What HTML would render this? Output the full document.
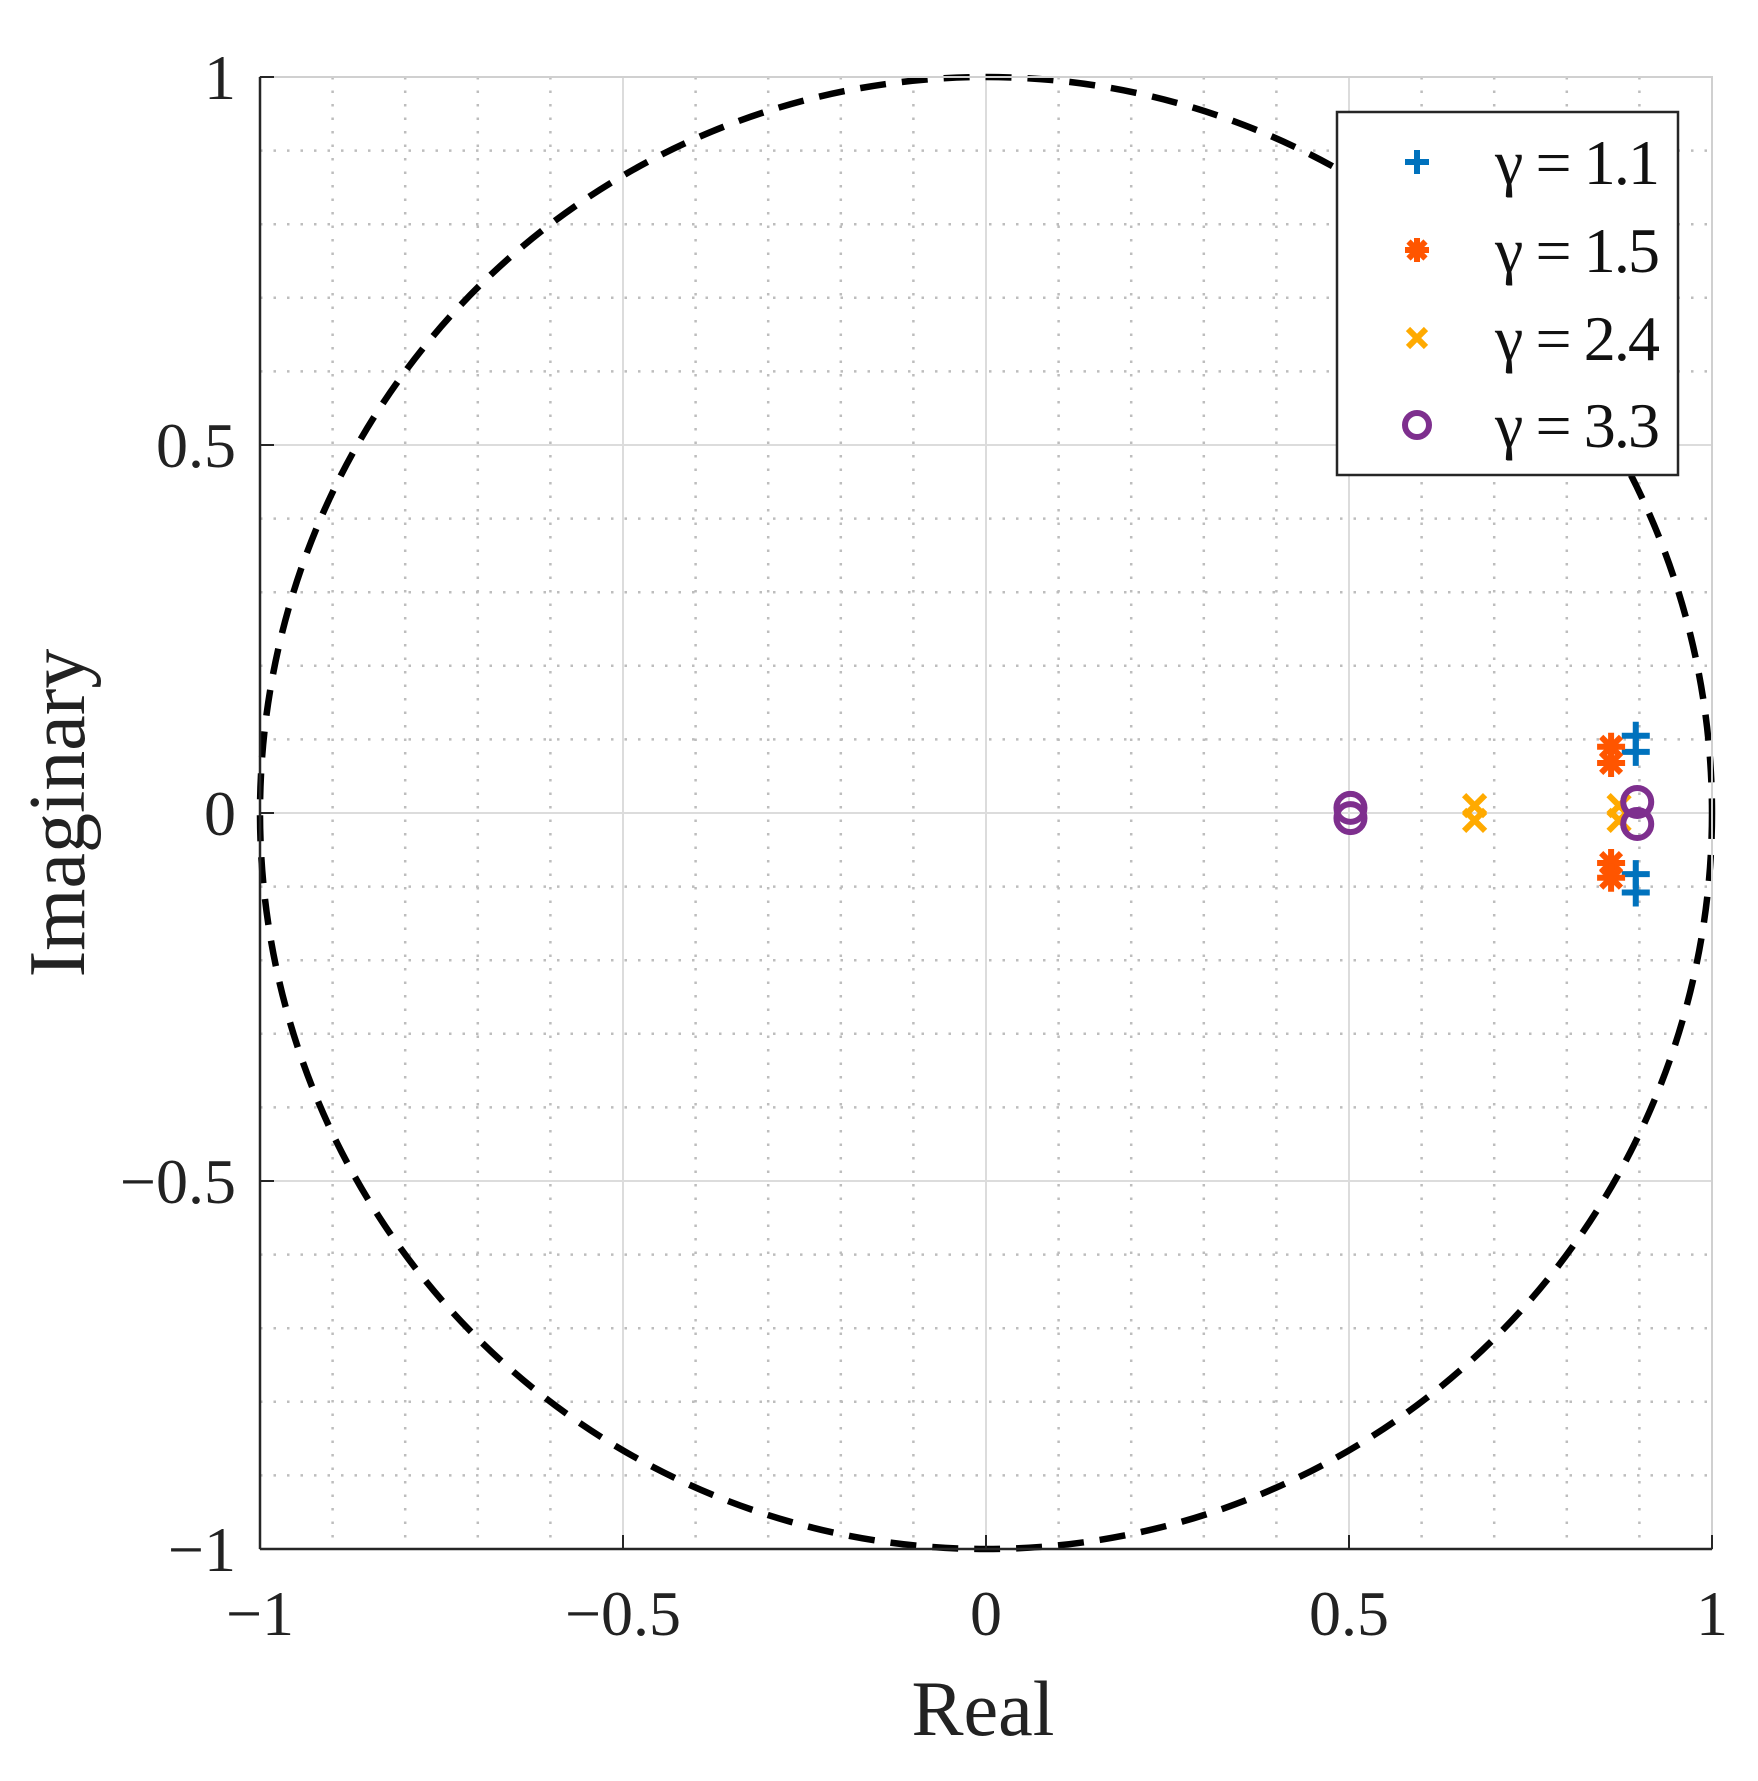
<!DOCTYPE html>
<html><head><meta charset="utf-8"><style>
html,body{margin:0;padding:0;background:#fff;}
svg{display:block;font-family:"Liberation Serif",serif;}
</style></head><body>
<svg id="chart" width="1758" height="1781" viewBox="0 0 1758 1781">
<g id="grid"></g>
<g id="circle"></g>
<g id="axes"></g>
<g id="marks"></g>
<g id="legend"></g>
<text x="983" y="1735" font-size="78" text-anchor="middle" fill="#222">Real</text>
<text transform="translate(84,813) rotate(-90)" font-size="80" text-anchor="middle" fill="#222">Imaginary</text>
</svg>
<script>
const ticks = [-1, -0.5, 0, 0.5, 1];
const tickLabels = ["\u22121", "\u22120.5", "0", "0.5", "1"];
const seriesNames = ["\u03b3 = 1.1", "\u03b3 = 1.5", "\u03b3 = 2.4", "\u03b3 = 3.3"];
const seriesColors = ["#0072BD", "#FF5500", "#FFAA00", "#7E2F8E"];
const seriesMarkers = ["plus", "asterisk", "x", "circle"];
const re11 = [0.895, 0.895, 0.895, 0.895];
const im11 = [0.105, 0.083, -0.083, -0.108];
const re15 = [0.861, 0.861, 0.861, 0.861];
const im15 = [0.09, 0.068, -0.068, -0.088];
const re24 = [0.673, 0.673, 0.872, 0.872];
const im24 = [0.01, -0.01, 0.01, -0.01];
const re33 = [0.502, 0.502, 0.897, 0.897];
const im33 = [0.007, -0.007, 0.015, -0.015];
const seriesRe = [re11, re15, re24, re33];
const seriesIm = [im11, im15, im24, im33];

const NS = "http://www.w3.org/2000/svg";
const L = 260, R = 1712, T = 77, B = 1549;
const sx = v => L + (v + 1) / 2 * (R - L);
const sy = v => B - (v + 1) / 2 * (B - T);
function mk(tag, attrs, parent) {
  const e = document.createElementNS(NS, tag);
  for (const k in attrs) e.setAttribute(k, attrs[k]);
  parent.appendChild(e);
  return e;
}
const grid = document.getElementById('grid');
for (let i = -10; i <= 10; i++) {
  const v = i / 10;
  const major = (i % 5 === 0);
  const lx = mk('line', {x1: sx(v), x2: sx(v), y1: T, y2: B, stroke: major ? '#dcdcdc' : '#bdbdbd', 'stroke-width': major ? 2 : 2.5, 'stroke-dasharray': major ? '' : '2.5 11'}, grid);
  
  
  const ly = mk('line', {x1: L, x2: R, y1: sy(v), y2: sy(v), stroke: major ? '#dcdcdc' : '#bdbdbd', 'stroke-width': major ? 2 : 2.5, 'stroke-dasharray': major ? '' : '2.5 11'}, grid);
  
  
}
const ell = mk('ellipse', {cx: sx(0), cy: sy(0), rx: sx(1) - sx(0), ry: sy(0) - sy(1), fill: 'none', stroke: '#000', 'stroke-width': 6.5, 'stroke-dasharray': '26 16'}, document.getElementById('circle'));



const axes = document.getElementById('axes');
mk('rect', {x: L, y: T, width: R - L, height: B - T, fill: 'none', stroke: '#d0d0d0', 'stroke-width': 2}, axes);
mk('line', {x1: L, x2: L, y1: T, y2: B, stroke: '#262626', 'stroke-width': 2.5}, axes);
mk('line', {x1: L, x2: R, y1: B, y2: B, stroke: '#262626', 'stroke-width': 2.5}, axes);
ticks.forEach((v, i) => {
  mk('line', {x1: sx(v), x2: sx(v), y1: B, y2: B - 14, stroke: '#262626', 'stroke-width': 2}, axes);
  mk('line', {x1: L, x2: L + 14, y1: sy(v), y2: sy(v), stroke: '#262626', 'stroke-width': 2}, axes);
  const tx = mk('text', {x: sx(v), y: 1635, 'font-size': 64, 'text-anchor': 'middle', fill: '#222'}, axes);
  tx.textContent = tickLabels[i];
  
  
  const ty = mk('text', {x: 236, y: sy(v) + 22, 'font-size': 64, 'text-anchor': 'end', fill: '#222'}, axes);
  ty.textContent = tickLabels[i];
  
  
});

function drawMarker(type, x, y, color, s, parent) {
  const g = mk('g', {stroke: color, fill: 'none', 'stroke-width': 6}, parent);
  if (type === 'plus') {
    mk('path', {d: `M${x - s},${y}H${x + s}M${x},${y - s}V${y + s}`}, g);
  } else if (type === 'x') {
    const d = s * 0.75;
    mk('path', {d: `M${x - d},${y - d}L${x + d},${y + d}M${x - d},${y + d}L${x + d},${y - d}`}, g);
  } else if (type === 'asterisk') {
    let d = '';
    for (let k = 0; k < 4; k++) {
      const a = k * Math.PI / 4;
      d += `M${x - s * Math.cos(a)},${y - s * Math.sin(a)}L${x + s * Math.cos(a)},${y + s * Math.sin(a)}`;
    }
    mk('path', {d: d}, g);
  } else {
    mk('circle', {cx: x, cy: y, r: s}, g);
  }
  return g;
}
const marks = document.getElementById('marks');
seriesRe.forEach((reArr, si) => {
  reArr.forEach((re, j) => {
    const m = drawMarker(seriesMarkers[si], sx(re), sy(seriesIm[si][j]), seriesColors[si], 14, marks);
    
    
  });
});

const legend = document.getElementById('legend');
const box = mk('rect', {x: 1337, y: 112, width: 341, height: 363, fill: '#fff', stroke: '#262626', 'stroke-width': 2.5}, legend);


const legY = [162, 250, 338, 425];
seriesNames.forEach((n, i) => {
  const m = drawMarker(seriesMarkers[i], 1417, legY[i], seriesColors[i], 12, legend);
  
  
  const t = mk('text', {x: 1495, y: legY[i] + 22, 'font-size': 64, fill: '#111', 'textLength': 165}, legend);
  t.textContent = n;
  
  
});
</script>
</body></html>
